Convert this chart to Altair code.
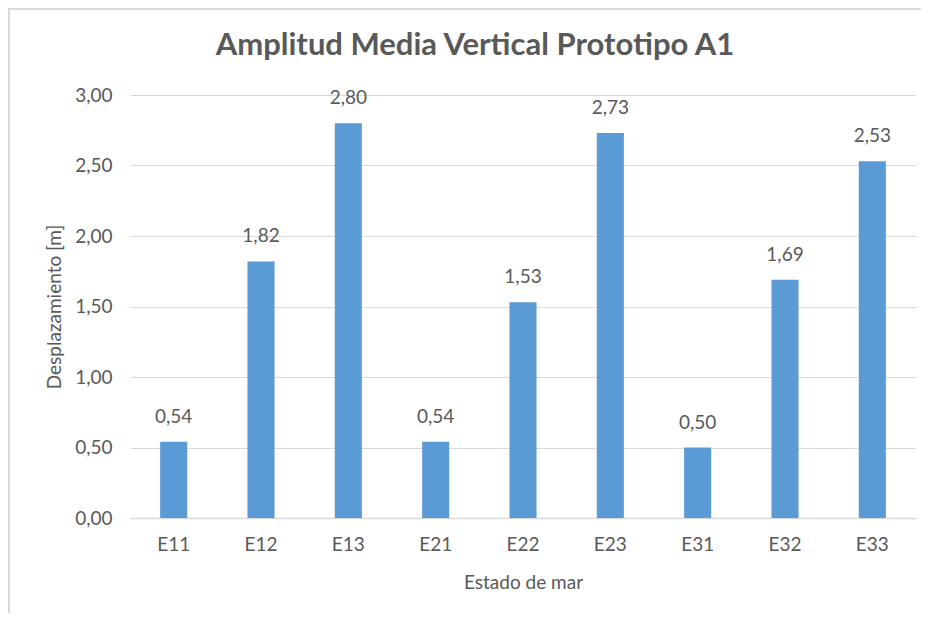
import altair as alt
import pandas as pd

categories = ["E11", "E12", "E13", "E21", "E22", "E23", "E31", "E32", "E33"]
values = [0.54, 1.82, 2.80, 0.54, 1.53, 2.73, 0.50, 1.69, 2.53]

df = pd.DataFrame({"estado": categories, "valor": values})

FONT = "Lato"
TXT = "#595959"
BAR = "#5B9BD5"

x = alt.X("estado:N", sort=categories,
          scale=alt.Scale(paddingInner=0.69, paddingOuter=0.345),
          axis=alt.Axis(title="Estado de mar", labelAngle=0, ticks=False,
                        domainColor="#d9d9d9", domainWidth=1.5,
                        labelPadding=17, titlePadding=19))
y = alt.Y("valor:Q", scale=alt.Scale(domain=[0, 3]),
          axis=alt.Axis(title="Desplazamiento [m]", values=[0, 0.5, 1, 1.5, 2, 2.5, 3],
                        labelExpr="replace(format(datum.value, '.2f'), '.', ',')",
                        ticks=False, domain=False, gridColor="#d9d9d9",
                        labelPadding=18, titlePadding=10))

bars = alt.Chart(df).mark_bar(color=BAR).encode(x=x, y=y)
labels = alt.Chart(df).transform_calculate(
    lab="replace(format(datum.valor, '.2f'), '.', ',')"
).mark_text(baseline="alphabetic", dy=-19, font=FONT, fontSize=19, color=TXT).encode(
    x=alt.X("estado:N", sort=categories), y="valor:Q", text="lab:N")

top_border = alt.Chart(df).mark_rule(color="#d9d9d9", strokeWidth=2).encode(
    x=alt.value(-122), x2=alt.value(800), y=alt.value(-86))
left_border = alt.Chart(df).mark_rule(color="#d9d9d9", strokeWidth=2).encode(
    x=alt.value(-121), y=alt.value(-87), y2=alt.value(520))

chart = alt.layer(bars, labels, top_border, left_border).properties(
    width=786, height=423,
    autosize=alt.AutoSizeParams(type="none"),
    padding={"left": 122, "top": 87, "right": 5, "bottom": 95},
    title=alt.TitleParams("Amplitud Media Vertical Prototipo A1", anchor="middle",
                          dx=-48, offset=-79, baseline="alphabetic",
                          font=FONT, fontSize=31, fontWeight="bold", color=TXT),
).configure_axis(
    labelFont=FONT, titleFont=FONT, labelFontSize=19, titleFontSize=19,
    labelColor=TXT, titleColor=TXT, titleFontWeight="normal",
).configure_view(stroke=None)

chart.save("out.html", embed_options={"renderer": "svg", "actions": False})
